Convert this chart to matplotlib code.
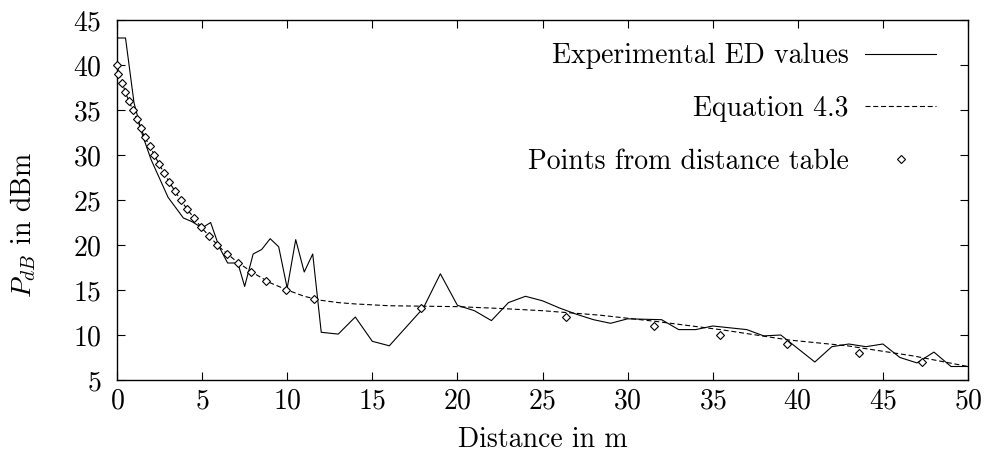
import matplotlib
matplotlib.use("Agg")
import matplotlib.pyplot as plt

plt.rcParams['font.family'] = ['cmr10', 'DejaVu Serif']
plt.rcParams['mathtext.fontset'] = 'cm'
plt.rcParams['axes.formatter.use_mathtext'] = True

# Experimental ED values
exp_x = [0, 0.5, 1.0, 1.5, 2.0, 3.0, 3.9, 4.4, 5.0, 5.5, 6.0, 6.5, 7.1, 7.5, 8.0, 8.5,
         9.0, 9.5, 10.0, 10.5, 11.0, 11.5, 12.0, 13.0, 14.0, 15.0, 16.0, 18.0, 19.0,
         20.0, 21.0, 22.0, 23.0, 24.0, 25.0, 26.0, 27.0, 28.0, 29.0, 30.0, 32.0, 33.0,
         34.0, 35.0, 37.0, 38.0, 39.0, 41.0, 42.0, 43.0, 44.0, 45.0, 46.0, 47.0, 48.0,
         49.0, 50.0]
exp_y = [43.0, 43.0, 35.8, 32.2, 29.5, 25.3, 23.0, 22.6, 21.9, 22.5, 19.8, 18.0, 18.0,
         15.4, 19.0, 19.5, 20.7, 19.8, 15.2, 20.6, 17.0, 19.0, 10.3, 10.1, 12.0, 9.3,
         8.8, 13.0, 16.8, 13.3, 12.7, 11.6, 13.6, 14.3, 13.8, 13.0, 12.3, 11.7, 11.3,
         11.8, 11.7, 10.6, 10.6, 11.0, 10.6, 9.9, 10.0, 7.0, 8.7, 9.0, 8.7, 9.0, 7.5,
         6.9, 8.1, 6.5, 6.5]

# Equation 4.3 curve
eq_x = [0, 0.5, 1, 1.5, 2, 2.5, 3, 3.5, 4, 4.5, 5, 6, 7, 8, 9, 10, 11, 12, 13, 14,
        16, 18, 20, 22.5, 25, 28.4, 31.7, 35.6, 39.5, 42.9, 46.8, 50]
eq_y = [40.0, 36.9, 34.7, 32.5, 30.7, 28.9, 27.2, 25.7, 24.3, 23.05, 21.85, 19.8,
        18.2, 16.9, 15.8, 15.0, 14.3, 13.85, 13.6, 13.45, 13.25, 13.2, 13.15, 12.95,
        12.7, 12.2, 11.5, 10.56, 9.44, 8.8, 7.67, 6.5]

# Points from distance table
tab_x = [0.0, 0.05, 0.27, 0.47, 0.7, 0.92, 1.15, 1.39, 1.64, 1.93, 2.15, 2.47, 2.76,
         3.07, 3.4, 3.74, 4.13, 4.52, 4.92, 5.41, 5.9, 6.48, 7.13, 7.88, 8.75, 9.91,
         11.6, 17.86, 26.36, 31.55, 35.43, 39.38, 43.6, 47.28]
tab_y = [40, 39, 38, 37, 36, 35, 34, 33, 32, 31, 30, 29, 28, 27, 26, 25, 24, 23, 22,
         21, 20, 19, 18, 17, 16, 15, 14, 13, 12, 11, 10, 9, 8, 7]

x_ticks = [0, 5, 10, 15, 20, 25, 30, 35, 40, 45, 50]
y_ticks = [5, 10, 15, 20, 25, 30, 35, 40, 45]

FS = 20

fig = plt.figure(figsize=(9.92, 4.57), dpi=100)
ax = fig.add_axes([117/992, 1-380/457, (968-117)/992, (380-20)/457])

ax.plot(exp_x, exp_y, color='black', lw=0.8, label='Experimental ED values', zorder=3)
ax.plot(eq_x, eq_y, color='black', lw=0.8, dashes=(4.5, 2.5), label='Equation 4.3', zorder=2)
ax.plot(tab_x, tab_y, linestyle='none', marker='D', ms=4.5, mfc='white', mec='black',
        mew=0.8, label='Points from distance table', zorder=4, clip_on=False)

ax.set_xlim(0, 50)
ax.set_ylim(5, 45)
ax.set_xticks(x_ticks)
ax.set_yticks(y_ticks)
ax.tick_params(direction='in', length=6, width=0.8, top=True, right=True, labelsize=FS)
ax.tick_params(axis='y', pad=11)
ax.tick_params(axis='x', pad=6)
for s in ax.spines.values():
    s.set_linewidth(1.0)

ax.set_xlabel('Distance in m', fontsize=FS, va='center')
ax.xaxis.set_label_coords(0.5, -(440-380)/360)
ax.set_ylabel(r'$P_{dB}$ in dBm', fontsize=FS, va='center')
ax.yaxis.set_label_coords(-0.11, 0.43)

ax.legend(loc='upper right', frameon=False, markerfirst=False, fontsize=FS,
          handlelength=2.55, handletextpad=0.6, labelspacing=0.95,
          bbox_to_anchor=(1.0, 1.0 + 9/360), borderaxespad=0.75)

fig.savefig('out.png', dpi=100)
